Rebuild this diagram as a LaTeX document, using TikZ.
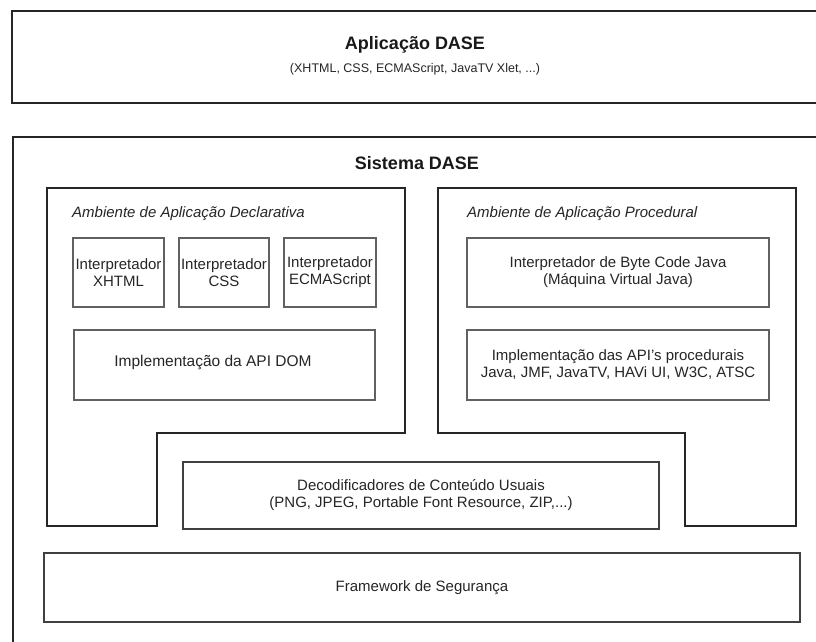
\documentclass[tikz,border=0pt]{standalone}
\usepackage{fontspec}
\setmainfont{Liberation Sans}
\begin{document}
\begin{tikzpicture}[x=1pt,y=-1pt,
  frame/.style={draw=black!85, line width=1.8pt, inner sep=0pt},
  region/.style={draw=black!85, line width=1.8pt, line join=miter},
  box/.style={draw=black!62, line width=1.3pt, inner sep=0pt, align=center,
              font=\fontsize{15}{17}\selectfont, text=black!85},
  layer/.style={box, draw=black!75, line width=1.5pt},
  title/.style={font=\fontsize{18}{20}\selectfont\bfseries, text=black!90},
  caption/.style={font=\fontsize{15}{17}\selectfont\itshape, text=black!85, anchor=west, inner sep=0pt},
  plain/.style={font=\fontsize{15}{17}\selectfont, text=black!85, align=center, inner sep=0pt},
]
\useasboundingbox (0,0) rectangle (816,641);
\fill[white] (0,0) rectangle (816,641);

% application layer
\node[frame, minimum width=828pt, minimum height=92pt] (app) at (426,57) {};
\node[title] (apptitle) at (415,45) {Aplicação DASE};
\node[font=\fontsize{12.5}{14}\selectfont, text=black!85] (appsub) at (415,69)
  {(XHTML, CSS, ECMAScript, JavaTV Xlet, ...)};

% DASE system
\node[frame, minimum width=827pt, minimum height=523pt] (sys) at (426.5,398.5) {};
\node[title] (systitle) at (417,163) {Sistema DASE};

% declarative environment
\draw[region] (47,188) -- (405,188) -- (405,433) -- (157,433) -- (157,526) -- (47,526) -- cycle;
\node[caption] (declabel) at (72,214) {Ambiente de Aplicação Declarativa};
\node[box, minimum width=91pt, minimum height=69pt] (xhtml) at (118.5,272.5) {Interpretador\\XHTML};
\node[box, minimum width=90pt, minimum height=69pt] (css) at (224,272.5) {Interpretador\\CSS};
\node[box, minimum width=92pt, minimum height=69pt] (ecma) at (330,272.5) {Interpretador\\ECMAScript};
\node[box, minimum width=301pt, minimum height=70pt] (dom) at (224.5,365) {};
\node[plain, font=\fontsize{15.5}{17}\selectfont] (domtext) at (213,363) {Implementação da API DOM};

% procedural environment
\draw[region] (438,188) -- (796,188) -- (796,526) -- (685,526) -- (685,433) -- (438,433) -- cycle;
\node[caption] (proclabel) at (467,214) {Ambiente de Aplicação Procedural};
\node[box, minimum width=302pt, minimum height=69pt] (jvm) at (618,272.5)
  {Interpretador de Byte Code Java\\(Máquina Virtual Java)};
\node[box, minimum width=302pt, minimum height=70pt] (papi) at (618,365)
  {Implementação das API's procedurais\\Java, JMF, JavaTV, HAVi UI, W3C, ATSC};

% shared decoders and security
\node[layer, minimum width=476pt, minimum height=67pt] (dec) at (421,495.5)
  {Decodificadores de Conteúdo Usuais\\(PNG, JPEG, Portable Font Resource, ZIP,...)};
\node[layer, minimum width=756pt, minimum height=69pt] (sec) at (422,587.5)
  {Framework de Segurança};
\end{tikzpicture}
\end{document}
